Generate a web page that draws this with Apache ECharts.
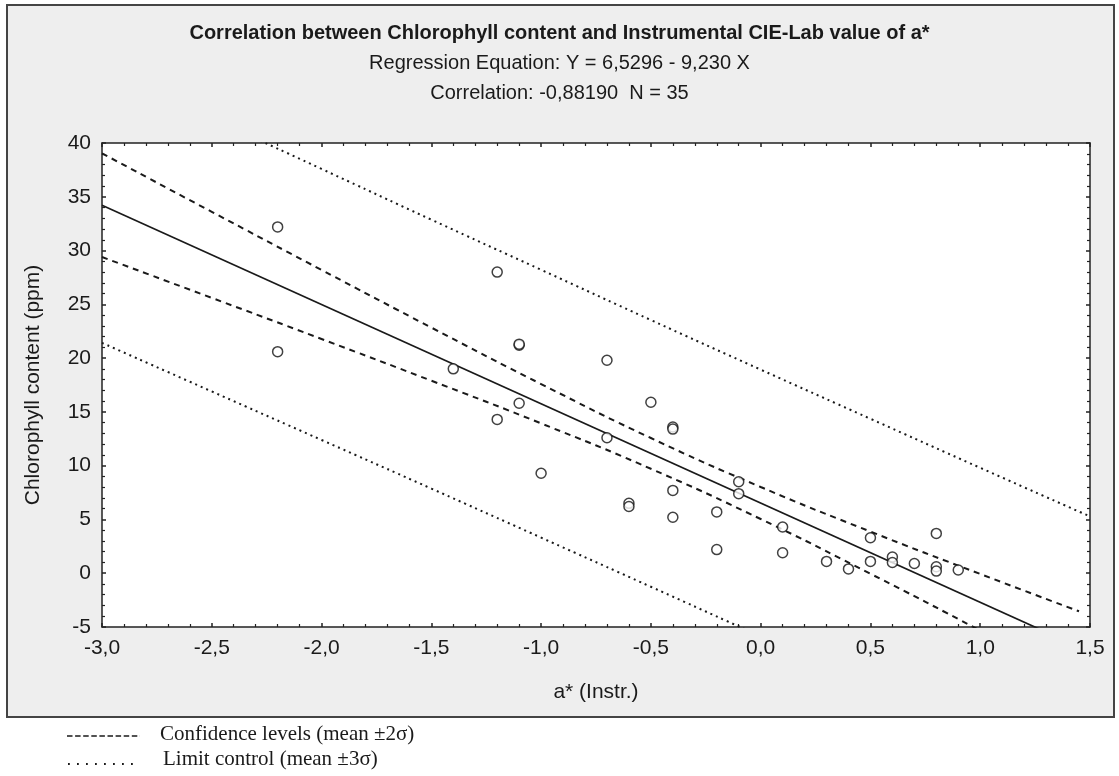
<!DOCTYPE html>
<html>
<head>
<meta charset="utf-8">
<script src="https://cdn.jsdelivr.net/npm/echarts@6/dist/echarts.min.js"></script>
<style>
  html, body { margin: 0; padding: 0; background: #fff; }
  #chart { width: 1119px; height: 776px; }
</style>
</head>
<body>
<div id="chart"></div>
<script>
// measured points, a* (Instr.) vs chlorophyll (ppm)
var aInstr = [-2.2, -2.2, -1.4, -1.2, -1.1, -1.1, -0.7, -1.1, -1.2, -0.5,
  -0.4, -0.4, -0.7, -1.0, -0.6, -0.6, -0.4, -0.4, -0.1, -0.1,
  -0.2, -0.2, 0.1, 0.1, 0.3, 0.4, 0.5, 0.5, 0.6, 0.6,
  0.7, 0.8, 0.8, 0.8, 0.9]
var chloro = [32.2, 20.6, 19.0, 28.0, 21.2, 21.3, 19.8, 15.8, 14.3, 15.9,
  13.6, 13.4, 12.6, 9.3, 6.5, 6.2, 7.7, 5.2, 8.5, 7.4,
  5.7, 2.2, 4.3, 1.9, 1.1, 0.4, 3.3, 1.1, 1.5, 1.0,
  0.9, 3.7, 0.6, 0.2, 0.3]

// regression line ends
var regX = [-3.0, 1.5]
var regY = [34.22, -7.32]

// confidence levels (mean +-2 sigma)
var confX = [-3.0, -2.5, -2.0, -1.5, -1.0, -0.5, 0.0, 0.5, 1.0, 1.45]
var confUp = [39.04, 33.60, 28.20, 22.84, 17.59, 12.57, 8.02, 3.87, -0.07, -3.54]
var confLo = [29.40, 25.60, 21.78, 17.90, 13.93, 9.71, 5.04, -0.05, -5.33, -10.2]

// limit control (mean +-3 sigma)
var limX = [-3.0, -2.5, -2.0, -1.5, -1.0, -0.5, 0.0, 0.5, 1.0, 1.5]
var limUp = [47.0, 42.3, 37.59, 32.87, 28.21, 23.54, 18.93, 14.36, 9.80, 5.28]
var limLo = [21.42, 16.9, 12.39, 7.87, 3.31, -1.26, -5.87, -10.5, -15.2, -19.9]

var xTicks = { min: -3.0, max: 1.5, step: 0.5 }
var yTicks = { min: -5, max: 40, step: 5 }

function pairs(xs, ys) {
  var out = []
  for (var i = 0; i < xs.length; i++) out.push([xs[i], ys[i]])
  return out
}

var sans = 'Liberation Sans, Arial, sans-serif'
var serif = 'Liberation Serif, Times New Roman, serif'
var ink = '#1a1a1a'

function lineSeries(name, xs, ys, type, width) {
  return {
    name: name,
    type: 'line',
    data: pairs(xs, ys),
    smooth: type !== 'solid',
    symbol: 'none',
    clip: true,
    silent: true,
    z: 2,
    lineStyle: { color: ink, width: width, type: type }
  }
}

function axisCommon(showLabels) {
  return {
    axisLine: { show: true, onZero: false, lineStyle: { color: '#222', width: 1.5 } },
    axisTick: { show: true, inside: true, length: 4, lineStyle: { color: '#222', width: 1.5 } },
    minorTick: { show: true, splitNumber: 5, length: 3, lineStyle: { color: '#222', width: 1.2 } },
    splitLine: { show: false },
    axisLabel: { show: showLabels }
  }
}

var chart = echarts.init(document.getElementById('chart'), null, { renderer: 'canvas' })

var bottomX = Object.assign(axisCommon(true), {
  type: 'value', position: 'bottom', min: xTicks.min, max: xTicks.max, interval: xTicks.step,
  name: 'a* (Instr.)', nameLocation: 'middle', nameGap: 55,
  nameTextStyle: { fontFamily: sans, fontSize: 21, color: ink }
})
bottomX.axisLabel = {
  show: true, margin: 11, fontFamily: sans, fontSize: 21, color: ink,
  formatter: function (v) { return v.toFixed(1).replace('.', ',') }
}
var topX = Object.assign(axisCommon(false), {
  type: 'value', position: 'top', min: xTicks.min, max: xTicks.max, interval: xTicks.step
})
var leftY = Object.assign(axisCommon(true), {
  type: 'value', position: 'left', min: yTicks.min, max: yTicks.max, interval: yTicks.step,
  name: 'Chlorophyll content (ppm)', nameLocation: 'middle', nameGap: 58, nameRotate: 90,
  nameTextStyle: { fontFamily: sans, fontSize: 21, color: ink }
})
leftY.axisLabel = { show: true, margin: 11, fontFamily: sans, fontSize: 21, color: ink }
var rightY = Object.assign(axisCommon(false), {
  type: 'value', position: 'right', min: yTicks.min, max: yTicks.max, interval: yTicks.step
})

var option = {
  animation: false,
  backgroundColor: '#ffffff',
  title: [
    { text: 'Correlation between Chlorophyll content and Instrumental CIE-Lab value of a*',
      left: 'center', top: 18,
      textStyle: { fontFamily: sans, fontSize: 20, fontWeight: 'bold', color: ink } },
    { text: 'Regression Equation: Y = 6,5296 - 9,230 X',
      left: 'center', top: 48,
      textStyle: { fontFamily: sans, fontSize: 20, fontWeight: 'normal', color: ink } },
    { text: 'Correlation: -0,88190  N = 35',
      left: 'center', top: 78,
      textStyle: { fontFamily: sans, fontSize: 20, fontWeight: 'normal', color: ink } }
  ],
  graphic: [
    { type: 'rect', z: -10, silent: true,
      shape: { x: 7, y: 5, width: 1107, height: 712 },
      style: { fill: '#eeeeee', stroke: '#444', lineWidth: 2 } },
    { type: 'rect', z: -9, silent: true,
      shape: { x: 102, y: 143, width: 988, height: 484 },
      style: { fill: '#ffffff' } },
    { type: 'line', silent: true,
      shape: { x1: 67, y1: 736, x2: 140, y2: 736 },
      style: { stroke: ink, lineWidth: 1.3, lineDash: [5.5, 2.6] } },
    { type: 'text', left: 160, top: 724, silent: true,
      style: { text: 'Confidence levels (mean \u00b12\u03c3)', font: '21px ' + serif, fill: ink } },
    { type: 'line', silent: true,
      shape: { x1: 68, y1: 764, x2: 140, y2: 764 },
      style: { stroke: ink, lineWidth: 1.8, lineDash: [1.8, 7.2] } },
    { type: 'text', left: 163, top: 749, silent: true,
      style: { text: 'Limit control (mean \u00b13\u03c3)', font: '21px ' + serif, fill: ink } }
  ],
  grid: { left: 102, right: 29, top: 143, bottom: 149, containLabel: false },
  xAxis: [bottomX, topX],
  yAxis: [leftY, rightY],
  series: [
    lineSeries('Regression', regX, regY, 'solid', 1.7),
    lineSeries('Conf upper', confX, confUp, [6, 5], 2),
    lineSeries('Conf lower', confX, confLo, [6, 5], 2),
    lineSeries('Limit upper', limX, limUp, [2, 4], 2),
    lineSeries('Limit lower', limX, limLo, [2, 4], 2),
    {
      name: 'Data',
      type: 'scatter',
      data: pairs(aInstr, chloro),
      symbol: 'circle',
      symbolSize: 10,
      z: 5,
      itemStyle: { color: '#ffffff', borderColor: '#111', borderWidth: 1.5 }
    }
  ]
}
chart.setOption(option)
</script>
</body>
</html>
